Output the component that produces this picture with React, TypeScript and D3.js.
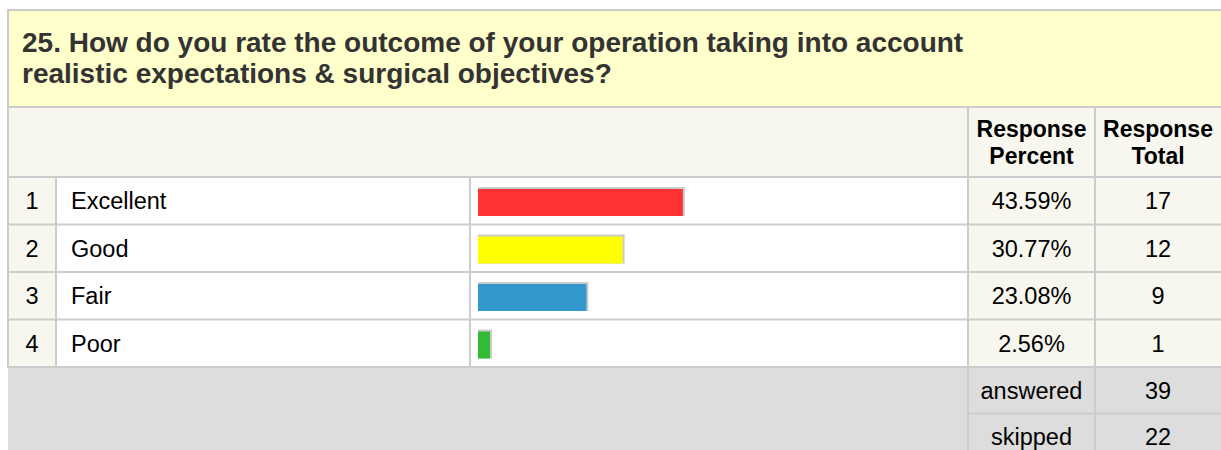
import React from "react";
import * as d3 from "d3";

const title = [
  "25. How do you rate the outcome of your operation taking into account",
  "realistic expectations & surgical objectives?",
];
const categories = ["Excellent", "Good", "Fair", "Poor"];
const percents = [43.59, 30.77, 23.08, 2.56];
const totals = [17, 12, 9, 1];
const colors = ["#FF3333", "#FFFF00", "#3399CC", "#33BB33"];
const headers = [["Response", "Percent"], ["Response", "Total"]];
const summary = [
  { label: "answered", value: 39 },
  { label: "skipped", value: 22 },
];

const W = 1221;
const H = 450;
const L = 8;
const colNum = 56;
const colLabel = 470;
const colPct = 968;
const colTot = 1095;
const titleTop = 10;
const headTop = 107;
const rowsTop = 177;
const rowsBottom = 367;
const border = "#CCCCCC";
const offWhite = "#F7F7EF";
const font = "Arial, 'Liberation Sans', Helvetica, sans-serif";
const fs = 23.5;
const dy = 8.3;

export default function App() {
  const y = d3.scaleBand<string>().domain(categories).range([rowsTop, rowsBottom]);
  const x = d3.scaleLinear().domain([0, 100]).range([colLabel + 8, colLabel + 8 + 470]);
  const step = y.step();
  const sy = d3
    .scaleBand<string>()
    .domain(summary.map((d) => d.label))
    .range([rowsBottom, rowsBottom + 2 * 46.5]);

  return (
    <svg
      width={W}
      height={H}
      style={{ position: "absolute", left: 0, top: 0, fontFamily: font }}
    >
      <rect x={0} y={0} width={W} height={H} fill="#FFFFFF" />
      {/* title */}
      <rect x={L} y={titleTop} width={W - L} height={headTop - titleTop} fill="#FFFFCC" />
      {title.map((t, i) => (
        <text key={i} x={22} y={52 + i * 31} fontSize={28} fontWeight="bold" fill="#333333">
          {t}
        </text>
      ))}
      {/* header */}
      <rect x={L} y={headTop} width={W - L} height={rowsTop - headTop} fill={offWhite} />
      {headers.map((h, i) => {
        const cx = i === 0 ? (colPct + colTot) / 2 : (colTot + W) / 2;
        return h.map((s, j) => (
          <text
            key={`${i}-${j}`}
            x={cx}
            y={136.5 + j * 27}
            fontSize={23}
            fontWeight="bold"
            textAnchor="middle"
            fill="#000"
          >
            {s}
          </text>
        ));
      })}
      {/* rows */}
      {categories.map((c, i) => {
        const top = y(c)!;
        const mid = top + step / 2;
        return (
          <g key={c}>
            <rect x={L} y={top} width={colNum - L} height={step} fill={offWhite} />
            <rect x={colNum} y={top} width={colPct - colNum} height={step} fill="#FFFFFF" />
            <rect x={colPct} y={top} width={W - colPct} height={step} fill={offWhite} />
            <text x={(L + colNum) / 2} y={mid + dy} fontSize={fs} textAnchor="middle" fill="#000">
              {i + 1}
            </text>
            <text x={71} y={mid + dy} fontSize={fs} fill="#000">
              {c}
            </text>
            <rect
              x={x(0)}
              y={top + 10}
              width={x(percents[i]) - x(0) + 2}
              height={29}
              fill="#CCCCCC"
            />
            <rect
              x={x(0)}
              y={top + 12}
              width={x(percents[i]) - x(0)}
              height={27}
              fill={colors[i]}
            />
            <text
              x={(colPct + colTot) / 2}
              y={mid + dy}
              fontSize={fs}
              textAnchor="middle"
              fill="#000"
            >
              {percents[i].toFixed(2)}%
            </text>
            <text x={(colTot + W) / 2} y={mid + dy} fontSize={fs} textAnchor="middle" fill="#000">
              {totals[i]}
            </text>
          </g>
        );
      })}
      {/* footer */}
      <rect x={L} y={rowsBottom} width={W - L} height={H - rowsBottom} fill="#DDDDDD" />
      {summary.map((s) => {
        const mid = sy(s.label)! + sy.step() / 2;
        return (
          <g key={s.label}>
            <text x={(colPct + colTot) / 2} y={mid + dy} fontSize={fs} textAnchor="middle" fill="#000">
              {s.label}
            </text>
            <text x={(colTot + W) / 2} y={mid + dy} fontSize={fs} textAnchor="middle" fill="#000">
              {s.value}
            </text>
          </g>
        );
      })}
      {/* grid lines */}
      <g stroke={border} strokeWidth={2} fill="none">
        <line x1={L - 1} x2={W} y1={titleTop} y2={titleTop} />
        <line x1={L} x2={L} y1={titleTop} y2={rowsBottom + 1} />
        <line x1={L} x2={W} y1={headTop} y2={headTop} />
        <line x1={L} x2={W} y1={rowsTop} y2={rowsTop} />
        {categories.map((c) => (
          <line key={c} x1={L} x2={W} y1={y(c)! + step} y2={y(c)! + step} />
        ))}
        <line x1={colNum} x2={colNum} y1={rowsTop} y2={rowsBottom} />
        <line x1={colLabel} x2={colLabel} y1={rowsTop} y2={rowsBottom} />
        <line x1={colPct} x2={colPct} y1={headTop} y2={H} />
        <line x1={colTot} x2={colTot} y1={headTop} y2={H} />
        <line x1={colPct} x2={W} y1={sy("skipped")!} y2={sy("skipped")!} />
      </g>
    </svg>
  );
}
